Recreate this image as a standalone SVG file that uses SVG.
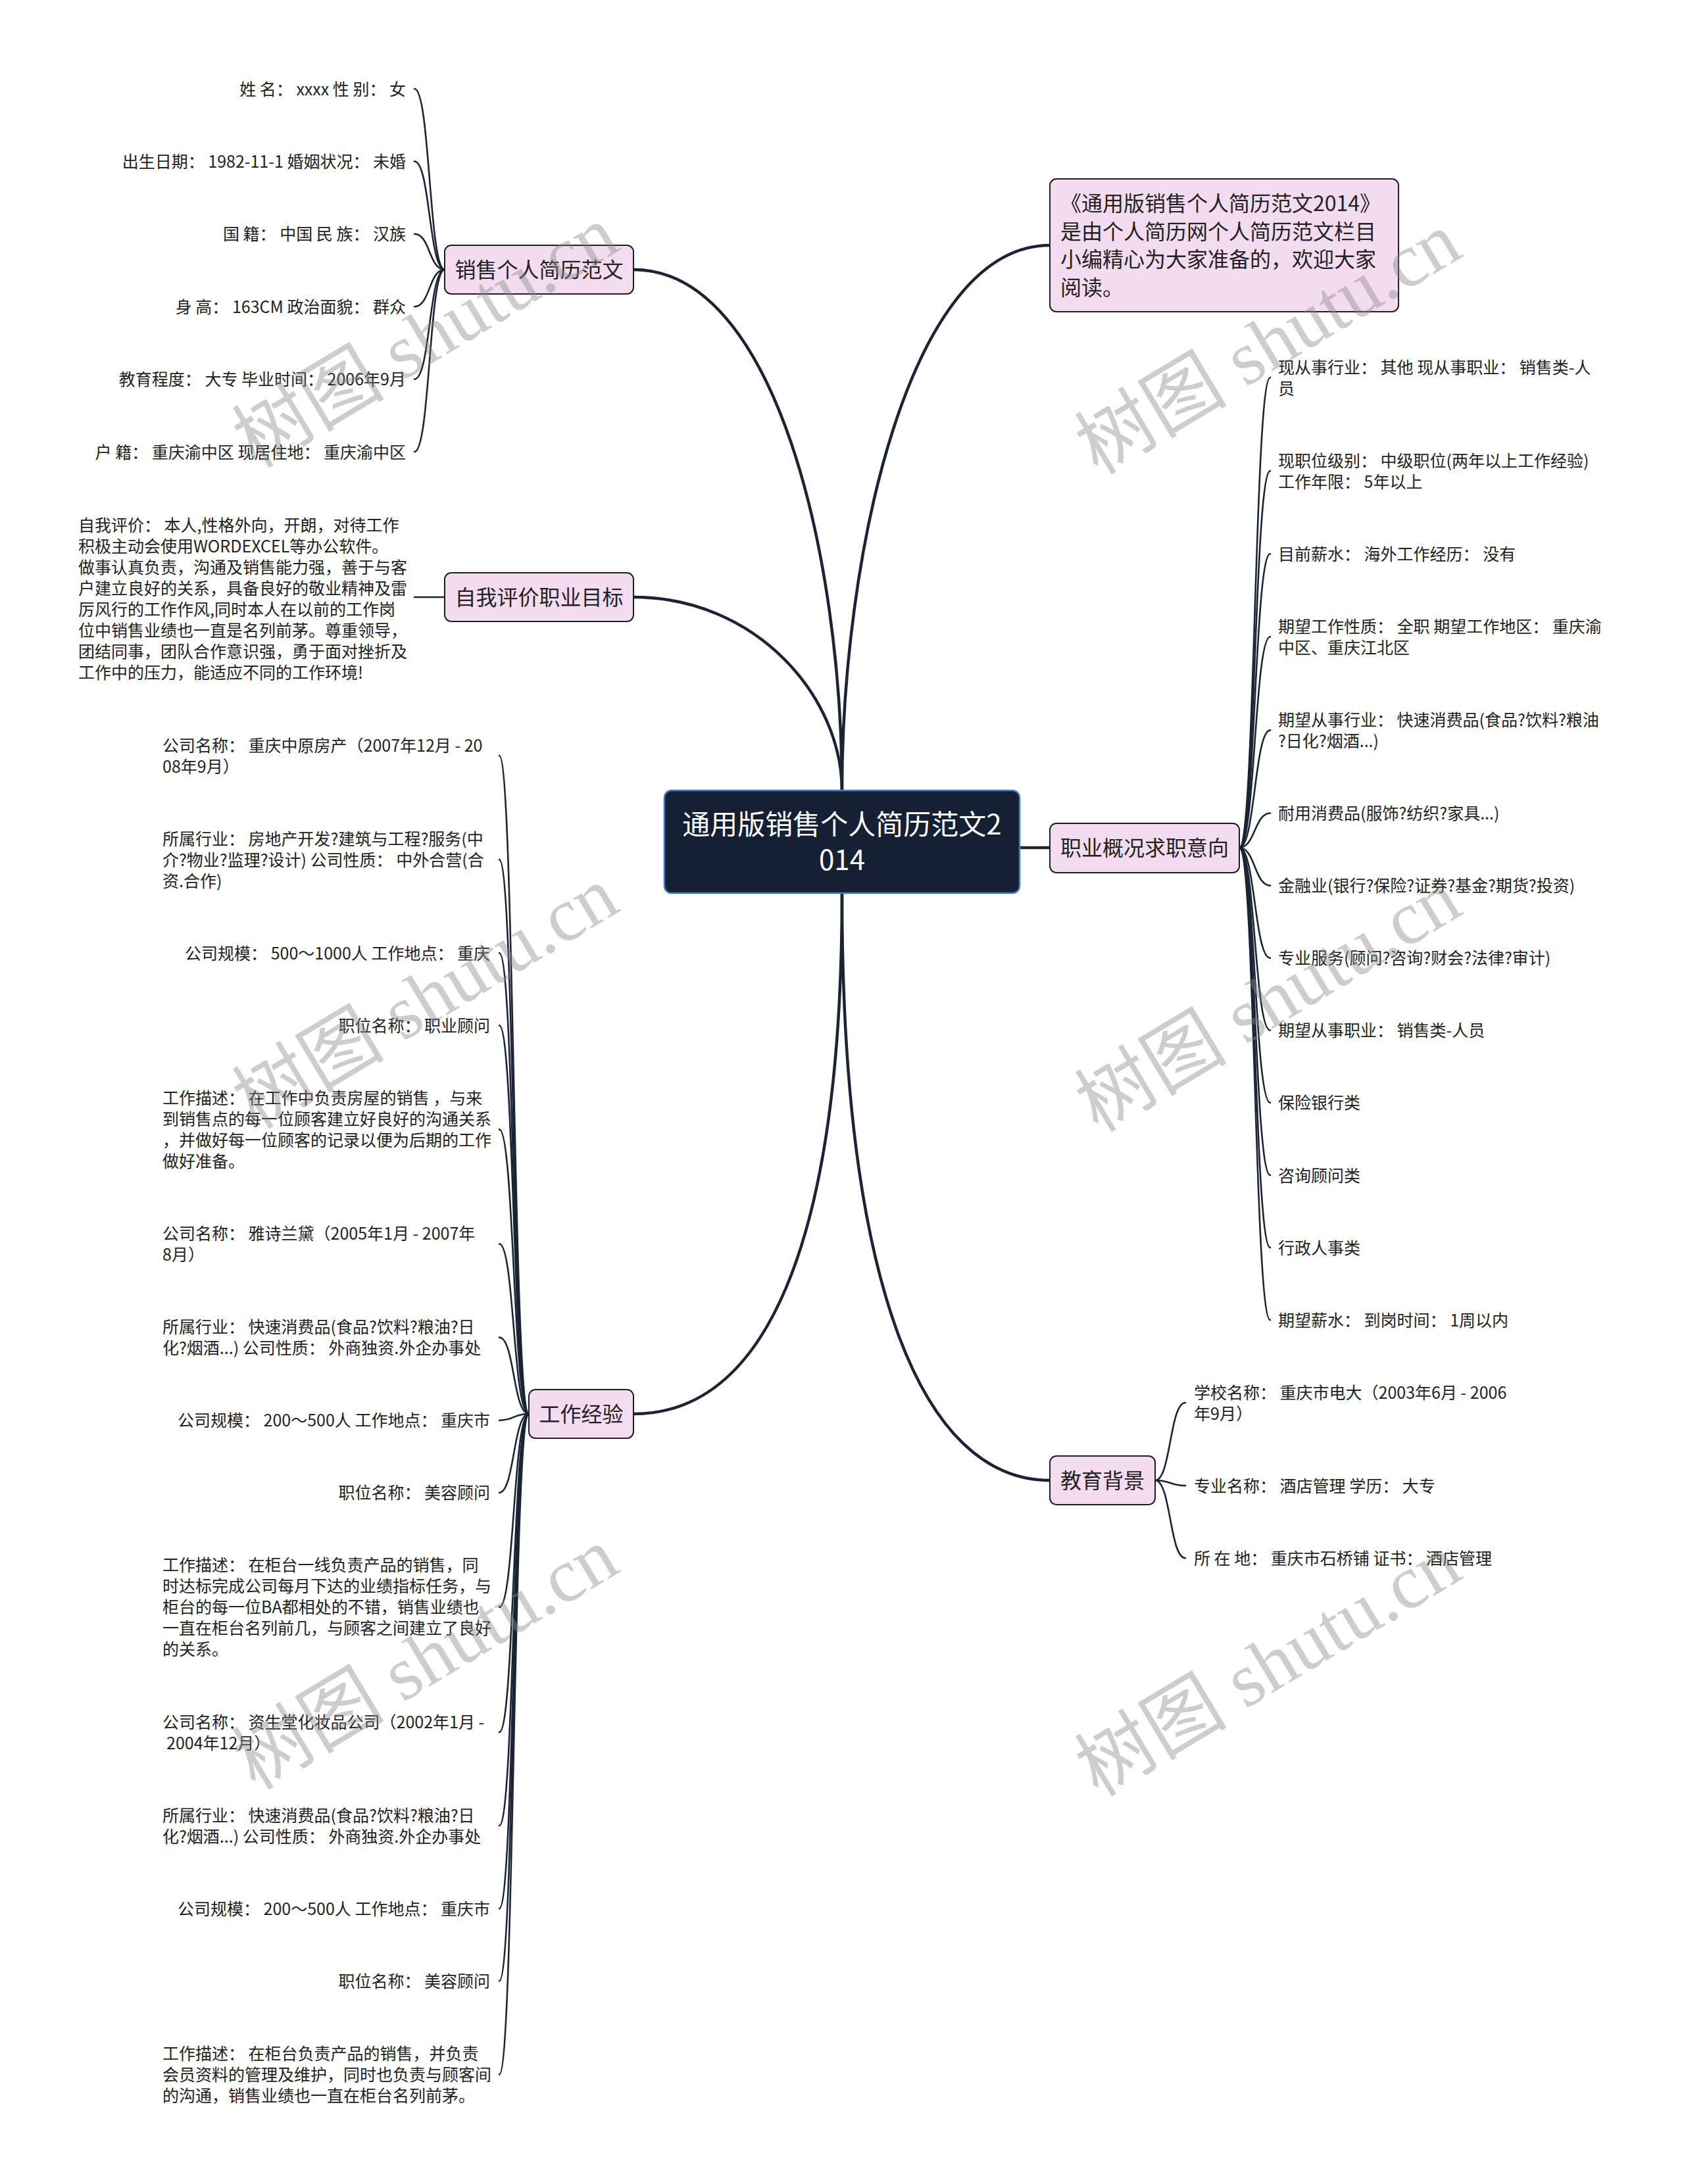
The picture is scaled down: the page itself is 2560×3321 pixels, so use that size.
<svg xmlns="http://www.w3.org/2000/svg" width="2560" height="3321" viewBox="0 0 2560 3321">
<style>
text { font-family: 'Noto Sans CJK SC', 'Noto Sans', sans-serif; fill: #222; }
.conn path { fill: none; stroke: #1b2435; stroke-linecap: round; }
.main { stroke-width: 4.5; }
.leaf { stroke-width: 2.6; }
.topic { fill: #f4dcf0; stroke: #1e1e1e; stroke-width: 2; }
.t32 { font-size: 32px; }
.t25 { font-size: 25px; }
.wm { font-family: 'Liberation Serif', 'Noto Sans CJK SC', serif; font-size: 116px; fill: #8a8a8a; opacity: 0.42; }
</style>
<rect x="0" y="0" width="2560" height="3321" fill="#ffffff"/>

<g id="connectors" class="conn">
  <path class="main" d="M 1280 1202 C 1280 850, 1180 410, 963 410"/>
  <path class="main" d="M 1280 1202 C 1280 1060, 1150 908, 963 908"/>
  <path class="main" d="M 1280 1202 C 1280 850, 1380 373, 1596 373"/>
  <path class="main" d="M 1550 1289 L 1596 1289"/>
  <path class="main" d="M 1280 1358 C 1280 1900, 1160 2150, 963 2150"/>
  <path class="main" d="M 1280 1358 C 1280 1950, 1400 2251, 1596 2251"/>

  <path class="leaf" d="M 676 410 C 652 410, 654 135, 630 135"/>
  <path class="leaf" d="M 676 410 C 652 410, 654 245.4, 630 245.4"/>
  <path class="leaf" d="M 676 410 C 652 410, 654 355.8, 630 355.8"/>
  <path class="leaf" d="M 676 410 C 652 410, 654 466.2, 630 466.2"/>
  <path class="leaf" d="M 676 410 C 652 410, 654 576.6, 630 576.6"/>
  <path class="leaf" d="M 676 410 C 652 410, 654 687, 630 687"/>

  <path class="leaf" d="M 676 908 L 630 908"/>

  <path class="leaf" d="M 804 2150 C 780 2150, 782 1149, 759 1149"/>
  <path class="leaf" d="M 804 2150 C 780 2150, 782 1307.1, 759 1307.1"/>
  <path class="leaf" d="M 804 2150 C 780 2150, 782 1449.2, 759 1449.2"/>
  <path class="leaf" d="M 804 2150 C 780 2150, 782 1559.3, 759 1559.3"/>
  <path class="leaf" d="M 804 2150 C 780 2150, 782 1717.4, 759 1717.4"/>
  <path class="leaf" d="M 804 2150 C 780 2150, 782 1891.5, 759 1891.5"/>
  <path class="leaf" d="M 804 2150 C 780 2150, 782 2033.6, 759 2033.6"/>
  <path class="leaf" d="M 804 2150 C 780 2150, 782 2159.7, 759 2159.7"/>
  <path class="leaf" d="M 804 2150 C 780 2150, 782 2269.8, 759 2269.8"/>
  <path class="leaf" d="M 804 2150 C 780 2150, 782 2443.9, 759 2443.9"/>
  <path class="leaf" d="M 804 2150 C 780 2150, 782 2634, 759 2634"/>
  <path class="leaf" d="M 804 2150 C 780 2150, 782 2776.1, 759 2776.1"/>
  <path class="leaf" d="M 804 2150 C 780 2150, 782 2902.2, 759 2902.2"/>
  <path class="leaf" d="M 804 2150 C 780 2150, 782 3012.3, 759 3012.3"/>
  <path class="leaf" d="M 804 2150 C 780 2150, 782 3154.4, 759 3154.4"/>

  <path class="leaf" d="M 1884 1289 C 1908 1289, 1907 574, 1931 574"/>
  <path class="leaf" d="M 1884 1289 C 1908 1289, 1907 716.1, 1931 716.1"/>
  <path class="leaf" d="M 1884 1289 C 1908 1289, 1907 842.2, 1931 842.2"/>
  <path class="leaf" d="M 1884 1289 C 1908 1289, 1907 968.3, 1931 968.3"/>
  <path class="leaf" d="M 1884 1289 C 1908 1289, 1907 1110.4, 1931 1110.4"/>
  <path class="leaf" d="M 1884 1289 C 1908 1289, 1907 1236.5, 1931 1236.5"/>
  <path class="leaf" d="M 1884 1289 C 1908 1289, 1907 1346.6, 1931 1346.6"/>
  <path class="leaf" d="M 1884 1289 C 1908 1289, 1907 1456.7, 1931 1456.7"/>
  <path class="leaf" d="M 1884 1289 C 1908 1289, 1907 1566.8, 1931 1566.8"/>
  <path class="leaf" d="M 1884 1289 C 1908 1289, 1907 1676.9, 1931 1676.9"/>
  <path class="leaf" d="M 1884 1289 C 1908 1289, 1907 1787, 1931 1787"/>
  <path class="leaf" d="M 1884 1289 C 1908 1289, 1907 1897.1, 1931 1897.1"/>
  <path class="leaf" d="M 1884 1289 C 1908 1289, 1907 2007.2, 1931 2007.2"/>

  <path class="leaf" d="M 1756 2251 C 1780 2251, 1778 2133, 1802 2133"/>
  <path class="leaf" d="M 1756 2251 C 1780 2251, 1778 2259.1, 1802 2259.1"/>
  <path class="leaf" d="M 1756 2251 C 1780 2251, 1778 2369.2, 1802 2369.2"/>
</g>

<g id="root">
  <rect x="1010" y="1202" width="540" height="156" rx="11" fill="#152035" stroke="#3f78c8" stroke-width="2.5"/>
  <text font-size="42" text-anchor="middle" style="fill:#ffffff"><tspan x="1280" y="1269">通用版销售个人简历范文2</tspan><tspan x="1280" y="1323">014</tspan></text>
</g>

<g id="topic-xiaoshou">
  <rect class="topic" x="676" y="373" width="287" height="74" rx="10"/>
  <text class="t32" x="819.5" y="422" text-anchor="middle">销售个人简历范文</text>
</g>
<g id="topic-ziwo">
  <rect class="topic" x="676" y="871" width="287" height="74" rx="10"/>
  <text class="t32" x="819.5" y="920" text-anchor="middle">自我评价职业目标</text>
</g>
<g id="topic-gongzuo">
  <rect class="topic" x="804" y="2113" width="159" height="74" rx="10"/>
  <text class="t32" x="883.5" y="2162" text-anchor="middle">工作经验</text>
</g>
<g id="topic-intro">
  <rect class="topic" x="1596" y="272" width="530" height="202" rx="10"/>
  <text class="t32" x="1612" y="321">《通用版销售个人简历范文2014》</text>
  <text class="t32" x="1612" y="364">是由个人简历网个人简历范文栏目</text>
  <text class="t32" x="1612" y="406">小编精心为大家准备的，欢迎大家</text>
  <text class="t32" x="1612" y="449">阅读。</text>
</g>
<g id="topic-zhiye">
  <rect class="topic" x="1596" y="1252" width="288" height="75" rx="10"/>
  <text class="t32" x="1740" y="1301" text-anchor="middle">职业概况求职意向</text>
</g>
<g id="topic-jiaoyu">
  <rect class="topic" x="1596" y="2214" width="160" height="74" rx="10"/>
  <text class="t32" x="1676" y="2263" text-anchor="middle">教育背景</text>
</g>

<g id="leaves-xiaoshou" class="t25" text-anchor="end">
  <text x="617" y="144.5">姓 名： xxxx 性 别： 女</text>
  <text x="617" y="254.9">出生日期： 1982-11-1 婚姻状况： 未婚</text>
  <text x="617" y="365.3">国 籍： 中国 民 族： 汉族</text>
  <text x="617" y="475.7">身 高： 163CM 政治面貌： 群众</text>
  <text x="617" y="586.1">教育程度： 大专 毕业时间： 2006年9月</text>
  <text x="617" y="696.5">户 籍： 重庆渝中区 现居住地： 重庆渝中区</text>
</g>

<g id="leaf-ziwo" class="t25">
  <text x="119" y="807.5">自我评价： 本人,性格外向，开朗，对待工作</text>
  <text x="119" y="839.5">积极主动会使用WORDEXCEL等办公软件。</text>
  <text x="119" y="871.5">做事认真负责，沟通及销售能力强，善于与客</text>
  <text x="119" y="903.5">户建立良好的关系，具备良好的敬业精神及雷</text>
  <text x="119" y="935.5">厉风行的工作作风,同时本人在以前的工作岗</text>
  <text x="119" y="967.5">位中销售业绩也一直是名列前茅。尊重领导，</text>
  <text x="119" y="999.5">团结同事，团队合作意识强，勇于面对挫折及</text>
  <text x="119" y="1031.5">工作中的压力，能适应不同的工作环境!</text>
</g>

<g id="leaves-gongzuo" class="t25">
  <g id="w1"><text x="247" y="1142.5">公司名称： 重庆中原房产（2007年12月 - 20</text><text x="247" y="1174.5">08年9月）</text></g>
  <g id="w2"><text x="247" y="1284.6">所属行业： 房地产开发?建筑与工程?服务(中</text><text x="247" y="1316.6">介?物业?监理?设计) 公司性质： 中外合营(合</text><text x="247" y="1348.6">资.合作)</text></g>
  <g id="w3"><text x="745" y="1458.7" text-anchor="end">公司规模： 500～1000人 工作地点： 重庆</text></g>
  <g id="w4"><text x="745" y="1568.8" text-anchor="end">职位名称： 职业顾问</text></g>
  <g id="w5"><text x="247" y="1678.9">工作描述： 在工作中负责房屋的销售 ，与来</text><text x="247" y="1710.9">到销售点的每一位顾客建立好良好的沟通关系</text><text x="247" y="1742.9">，并做好每一位顾客的记录以便为后期的工作</text><text x="247" y="1774.9">做好准备。</text></g>
  <g id="w6"><text x="247" y="1885">公司名称： 雅诗兰黛（2005年1月 - 2007年</text><text x="247" y="1917">8月）</text></g>
  <g id="w7"><text x="247" y="2027.1">所属行业： 快速消费品(食品?饮料?粮油?日</text><text x="247" y="2059.1">化?烟酒...) 公司性质： 外商独资.外企办事处</text></g>
  <g id="w8"><text x="745" y="2169.2" text-anchor="end">公司规模： 200～500人 工作地点： 重庆市</text></g>
  <g id="w9"><text x="745" y="2279.3" text-anchor="end">职位名称： 美容顾问</text></g>
  <g id="w10"><text x="247" y="2389.4">工作描述： 在柜台一线负责产品的销售，同</text><text x="247" y="2421.4">时达标完成公司每月下达的业绩指标任务，与</text><text x="247" y="2453.4">柜台的每一位BA都相处的不错，销售业绩也</text><text x="247" y="2485.4">一直在柜台名列前几，与顾客之间建立了良好</text><text x="247" y="2517.4">的关系。</text></g>
  <g id="w11"><text x="247" y="2627.5">公司名称： 资生堂化妆品公司（2002年1月 -</text><text x="253" y="2659.5">2004年12月）</text></g>
  <g id="w12"><text x="247" y="2769.6">所属行业： 快速消费品(食品?饮料?粮油?日</text><text x="247" y="2801.6">化?烟酒...) 公司性质： 外商独资.外企办事处</text></g>
  <g id="w13"><text x="745" y="2911.7" text-anchor="end">公司规模： 200～500人 工作地点： 重庆市</text></g>
  <g id="w14"><text x="745" y="3021.8" text-anchor="end">职位名称： 美容顾问</text></g>
  <g id="w15"><text x="247" y="3131.9">工作描述： 在柜台负责产品的销售，并负责</text><text x="247" y="3163.9">会员资料的管理及维护，同时也负责与顾客间</text><text x="247" y="3195.9">的沟通，销售业绩也一直在柜台名列前茅。</text></g>
</g>

<g id="leaves-zhiye" class="t25">
  <g id="r1"><text x="1943" y="567.5">现从事行业： 其他 现从事职业： 销售类-人</text><text x="1943" y="599.5">员</text></g>
  <g id="r2"><text x="1943" y="709.6">现职位级别： 中级职位(两年以上工作经验)</text><text x="1943" y="741.6">工作年限： 5年以上</text></g>
  <g id="r3"><text x="1943" y="851.7">目前薪水： 海外工作经历： 没有</text></g>
  <g id="r4"><text x="1943" y="961.8">期望工作性质： 全职 期望工作地区： 重庆渝</text><text x="1943" y="993.8">中区、重庆江北区</text></g>
  <g id="r5"><text x="1943" y="1103.9">期望从事行业： 快速消费品(食品?饮料?粮油</text><text x="1943" y="1135.9">?日化?烟酒...)</text></g>
  <g id="r6"><text x="1943" y="1246">耐用消费品(服饰?纺织?家具...)</text></g>
  <g id="r7"><text x="1943" y="1356.1">金融业(银行?保险?证券?基金?期货?投资)</text></g>
  <g id="r8"><text x="1943" y="1466.2">专业服务(顾问?咨询?财会?法律?审计)</text></g>
  <g id="r9"><text x="1943" y="1576.3">期望从事职业： 销售类-人员</text></g>
  <g id="r10"><text x="1943" y="1686.4">保险银行类</text></g>
  <g id="r11"><text x="1943" y="1796.5">咨询顾问类</text></g>
  <g id="r12"><text x="1943" y="1906.6">行政人事类</text></g>
  <g id="r13"><text x="1943" y="2016.7">期望薪水： 到岗时间： 1周以内</text></g>
</g>

<g id="leaves-jiaoyu" class="t25">
  <g id="e1"><text x="1815" y="2126.5">学校名称： 重庆市电大（2003年6月 - 2006</text><text x="1815" y="2158.5">年9月）</text></g>
  <g id="e2"><text x="1815" y="2268.6">专业名称： 酒店管理 学历： 大专</text></g>
  <g id="e3"><text x="1815" y="2378.7">所 在 地： 重庆市石桥铺 证书： 酒店管理</text></g>
</g>

<g id="watermarks">
  <text class="wm" text-anchor="middle" transform="translate(667 546) rotate(-31)">树图 shutu.cn</text>
  <text class="wm" text-anchor="middle" transform="translate(667 1551) rotate(-31)">树图 shutu.cn</text>
  <text class="wm" text-anchor="middle" transform="translate(667 2556) rotate(-31)">树图 shutu.cn</text>
  <text class="wm" text-anchor="middle" transform="translate(1948 556) rotate(-31)">树图 shutu.cn</text>
  <text class="wm" text-anchor="middle" transform="translate(1948 1556) rotate(-31)">树图 shutu.cn</text>
  <text class="wm" text-anchor="middle" transform="translate(1948 2566) rotate(-31)">树图 shutu.cn</text>
</g>
</svg>
